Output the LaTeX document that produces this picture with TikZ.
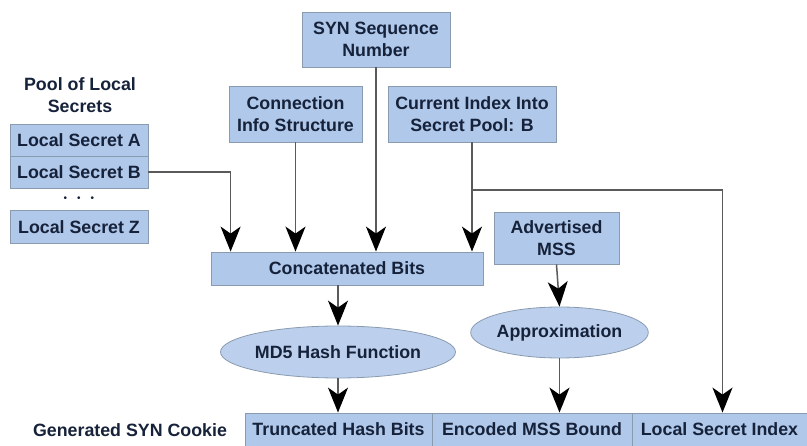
\documentclass[tikz,border=0pt]{standalone}
\usepackage{fontspec}
\setmainfont{Liberation Sans}
\usetikzlibrary{arrows.meta,shapes.geometric,calc}

\definecolor{boxblue}{HTML}{B0C8EA}
\definecolor{boxline}{HTML}{8A9BB0}
\definecolor{ink}{HTML}{16223A}
\definecolor{wire}{HTML}{5A5A5A}

\tikzset{
  font=\fontsize{17.8}{22}\selectfont\bfseries,
  block/.style={draw=boxline, line width=0.8pt, fill=boxblue, text=ink,
    align=center, inner sep=0pt},
  oval/.style={ellipse, draw=boxline, line width=0.8pt, fill=boxblue!85!white,
    text=ink, inner sep=0pt},
  arr/.style={draw=wire, line width=1.5pt,
    -{Stealth[length=25pt,width=20pt,inset=7pt,color=black]}},
  wire/.style={draw=wire, line width=1.5pt}
}

\begin{document}
\begin{tikzpicture}[x=1pt,y=-1pt]
   \useasboundingbox (0,0) rectangle (807,446);

   % inputs
   \node[block, minimum width=148, minimum height=55] (syn) at (376,39.5) {SYN Sequence\\Number};
   \node[block, minimum width=133, minimum height=56] (conn) at (295.5,114) {Connection\\Info Structure};
   \node[block, minimum width=168, minimum height=56] (idx) at (472,114) {Current Index Into\\Secret Pool: B};

   \node[text=ink, align=center] (pool) at (80,95) {Pool of Local\\Secrets};
   \node[block, minimum width=138, minimum height=32] (secA) at (79,140) {Local Secret A};
   \node[block, minimum width=138, minimum height=32] (secB) at (79,172) {Local Secret B};
   \node[text=ink, font=\fontsize{10}{12}\selectfont] (dots) at (79,199) {•\quad•\quad•};
   \node[block, minimum width=138, minimum height=33] (secZ) at (79,227) {Local Secret Z};

   \node[block, minimum width=125, minimum height=52] (mss) at (556.5,238) {Advertised\\MSS};

   % processing
   \node[block, minimum width=272, minimum height=33] (concat) at (347,268.5) {Concatenated Bits};
   \node[oval, minimum width=224, minimum height=52] (md5) at (338,352) {MD5 Hash Function};
   \node[oval, minimum width=145, minimum height=51] (approx) at (559.5,332.5) {Approximation};

   % cookie
   \node[text=ink] (cookie) at (130,430) {Generated SYN Cookie};
   \node[block, minimum width=187, minimum height=33] (trunc) at (338.5,429.5) {Truncated Hash Bits};
   \node[block, minimum width=200, minimum height=33] (enc) at (532,429.5) {Encoded MSS Bound};
   \node[block, minimum width=175, minimum height=33] (lsi) at (719.5,429.5) {Local Secret Index};

   \coordinate (br) at (472,190);

   \draw[arr] (secB.east) -| ($(concat.north west)+(20,0)$);
   \draw[arr] (conn.south) -- (conn.south |- concat.north);
   \draw[arr] (syn.south) -- (syn.south |- concat.north);
   \draw[arr] (idx.south) -- (idx.south |- concat.north);
   \draw[arr] (br) -| ($(lsi.north)+(3,0)$);

   \draw[arr] (md5.north |- concat.south) -- (md5.north);
   \draw[arr] (md5.south) -- (md5.south |- trunc.north);
   \draw[arr] (mss.south) -- (approx.north);
   \draw[arr] (approx.south) -- (approx.south |- enc.north);
\end{tikzpicture}
\end{document}
